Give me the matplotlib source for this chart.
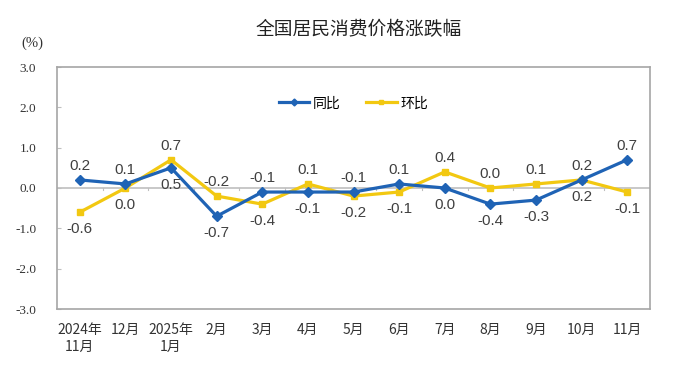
import matplotlib
matplotlib.use('Agg')
import matplotlib.pyplot as plt
import numpy as np

plt.rcParams['font.family'] = ['Noto Sans CJK SC', 'DejaVu Sans']

months = ['2024年\n11月', '12月', '2025年\n1月', '2月', '3月', '4月', '5月',
          '6月', '7月', '8月', '9月', '10月', '11月']
yoy = [0.2, 0.1, 0.5, -0.7, -0.1, -0.1, -0.1, 0.1, 0.0, -0.4, -0.3, 0.2, 0.7]
mom = [-0.6, 0.0, 0.7, -0.2, -0.4, 0.1, -0.2, -0.1, 0.4, 0.0, 0.1, 0.2, -0.1]
# which series gets its label above the point, per month
yoy_above = [True, True, False, False, True, False, True, True, False, False, False, True, True]

blue   = '#1F63B5'
yellow = '#F2C811'

fig = plt.figure(figsize=(6.8, 3.71), dpi=100)
ax  = fig.add_axes([57 / 680, 1 - 309 / 371, 593 / 680, 242 / 371])

x = np.arange(len(months))
ax.axhline(0, color='#bfbfbf', linewidth=1.2, zorder=1)
for xb in np.arange(0.5, len(months) - 1, 1):
    ax.plot([xb, xb], [0, -0.05], color='#bfbfbf', linewidth=0.8, zorder=1)

ax.plot(x, yoy, color=blue, linewidth=2.3, marker='D', markersize=5, label='同比', zorder=3)
ax.plot(x, mom, color=yellow, linewidth=2.3, marker='s', markersize=5, label='环比', zorder=2)

for i in range(len(months)):
    for val, up in ((yoy[i], yoy_above[i]), (mom[i], not yoy_above[i])):
        off = 5 if up else -7
        ax.annotate(f'{val:.1f}', (x[i], val), xytext=(0, off), textcoords='offset points',
                    ha='center', va='bottom' if up else 'top', fontsize=11,
                    color='#404040', family=['Liberation Sans', 'DejaVu Sans'])

ax.set_xlim(-0.5, len(months) - 0.5)
ax.set_ylim(-3, 3)
ax.set_yticks(np.arange(-3, 3.1, 1))
ax.set_yticklabels([f'{v:.1f}' for v in np.arange(-3, 3.1, 1)],
                   family=['Liberation Serif', 'DejaVu Serif'], fontsize=9.5, color='#333333')
ax.set_xticks(x)
ax.set_xticklabels(months, fontsize=10, color='#333333', linespacing=1.25)
ax.xaxis.set_tick_params(length=0, pad=10)
ax.yaxis.set_tick_params(length=3, color='#bfbfbf', direction='in', pad=15)
for side in ax.spines.values():
    side.set_color('#a6a6a6')
    side.set_linewidth(1.2)

ax.legend(loc='center', bbox_to_anchor=(0.5, 0.85), ncol=2, frameon=False, fontsize=10,
          handlelength=2.2, columnspacing=1.8, handletextpad=0.3, markerscale=0.7)

fig.text(0.527, 1 - 30 / 371, '全国居民消费价格涨跌幅', ha='center', va='center', fontsize=13.5, color='#222222')
fig.text(32 / 680, 1 - 43 / 371, '(%)', ha='center', va='center', fontsize=10.5, color='#333333',
         family=['Liberation Serif', 'DejaVu Serif'])

fig.savefig('out.png', dpi=100, facecolor='white')
